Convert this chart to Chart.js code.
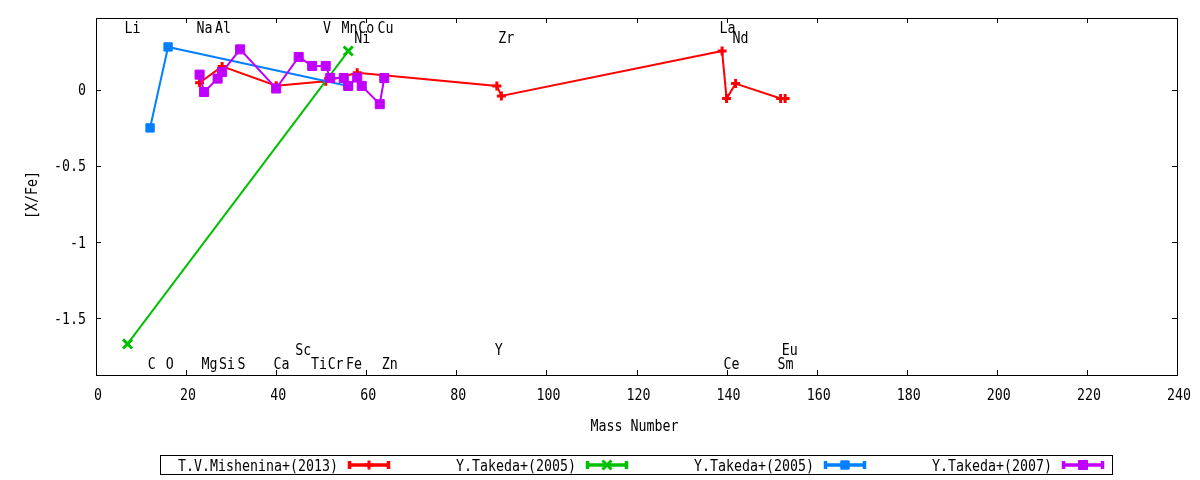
<!DOCTYPE html>
<html lang="en">
<head>
    <meta charset="UTF-8">
    <title>[X/Fe] vs Mass Number</title>
    <script src="https://cdn.jsdelivr.net/npm/chart.js"></script>
    <style>
        body { margin: 0; background: #fff; }
        canvas { display: block; }
    </style>
</head>
<body>
    <canvas id="xfeChart" width="1200" height="480"></canvas>

    <script>
        // データ
        const misheninaMass = [23, 28, 40, 51, 58, 89, 90, 139, 140, 142, 152, 153];
        const misheninaXFe = [0.045, 0.152, 0.025, 0.054, 0.11, 0.024, -0.042, 0.253, -0.059, 0.039, -0.059, -0.059];

        const takeda2005aMass = [7, 56];
        const takeda2005aXFe = [-1.671, 0.253];

        const takeda2005bMass = [12, 16, 56];
        const takeda2005bXFe = [-0.252, 0.28, 0.024];

        const takeda2007Mass = [23, 24, 27, 28, 32, 40, 45, 48, 51, 52, 55, 56, 58, 59, 63, 64];
        const takeda2007XFe = [0.098, -0.016, 0.072, 0.115, 0.264, 0.007, 0.214, 0.155, 0.155, 0.076, 0.076, 0.024, 0.079, 0.024, -0.096, 0.076];

        const seriesNames = ['T.V.Mishenina+(2013)', 'Y.Takeda+(2005)', 'Y.Takeda+(2005)', 'Y.Takeda+(2007)'];

        // 元素ラベル (質量数, [X/Fe] の位置)
        const elementNames = ['Li', 'Na', 'Al', 'V', 'Mn', 'Co', 'Cu', 'Ni', 'Zr', 'La', 'Nd',
            'C', 'O', 'Mg', 'Si', 'S', 'Ca', 'Sc', 'Ti', 'Cr', 'Fe', 'Zn', 'Y', 'Ce', 'Eu', 'Sm'];
        const elementLabelX = [8.1, 24.1, 28.2, 51.3, 56.3, 60, 64.3, 59.1, 91.1, 140.2, 143.1,
            12.4, 16.4, 25.2, 29.1, 32.3, 41.2, 46, 49.5, 53.2, 57.3, 65.2, 89.4, 141.1, 154, 153.1];
        const elementLabelY = [0.407, 0.407, 0.407, 0.407, 0.407, 0.407, 0.407, 0.341, 0.341, 0.407, 0.341,
            -1.796, -1.796, -1.796, -1.796, -1.796, -1.796, -1.706, -1.796, -1.796, -1.796, -1.796, -1.706, -1.796, -1.706, -1.796];

        const xTickValues = [0, 20, 40, 60, 80, 100, 120, 140, 160, 180, 200, 220, 240];
        const yTickValues = [-1.5, -1, -0.5, 0];

        const FONT = '16px "DejaVu Sans Mono", monospace';

        function toPoints(xs, ys) {
            return xs.map((x, i) => ({ x: x, y: ys[i] }));
        }

        // gnuplot 風の縦長フォント
        function monoText(ctx, str, x, y, align, rotate) {
            ctx.save();
            ctx.translate(x, y);
            if (rotate) ctx.rotate(-Math.PI / 2);
            ctx.scale(0.83, 1);
            ctx.font = FONT;
            ctx.fillStyle = '#000';
            ctx.textAlign = align;
            ctx.textBaseline = 'alphabetic';
            ctx.fillText(str, 0, 5.8);
            ctx.restore();
        }

        const styles = [
            { color: '#ff0000', pointStyle: 'cross', radius: 4.5, width: 3 },
            { color: '#00c000', pointStyle: 'crossRot', radius: 6.4, width: 3 },
            { color: '#0080ff', pointStyle: 'rect', radius: 5.9, width: 1 },
            { color: '#c000ff', pointStyle: 'rect', radius: 6.4, width: 1 },
        ];

        function drawMarker(ctx, st, x, y) {
            ctx.save();
            ctx.fillStyle = st.color;
            ctx.strokeStyle = st.color;
            ctx.lineWidth = st.width;
            Chart.helpers.drawPoint(ctx, { pointStyle: st.pointStyle, radius: st.radius, rotation: 0, borderWidth: st.width }, x, y);
            ctx.restore();
        }

        const gnuplotFrame = {
            id: 'gnuplotFrame',
            afterDraw(chart) {
                const ctx = chart.ctx;
                const a = chart.chartArea;
                const xs = chart.scales.x;
                const ys = chart.scales.y;

                ctx.save();
                ctx.strokeStyle = '#000';
                ctx.lineWidth = 1;
                ctx.strokeRect(Math.round(a.left) + 0.5, Math.round(a.top) + 0.5,
                    Math.round(a.right - a.left), Math.round(a.bottom - a.top));

                // 目盛り (内向き, 4辺)
                ctx.beginPath();
                xs.ticks.forEach(t => {
                    const px = Math.round(xs.getPixelForValue(t.value)) + 0.5;
                    ctx.moveTo(px, a.bottom); ctx.lineTo(px, a.bottom - 5);
                    ctx.moveTo(px, a.top); ctx.lineTo(px, a.top + 5);
                });
                ys.ticks.forEach(t => {
                    const py = Math.round(ys.getPixelForValue(t.value)) + 0.5;
                    ctx.moveTo(a.left, py); ctx.lineTo(a.left + 5, py);
                    ctx.moveTo(a.right, py); ctx.lineTo(a.right - 5, py);
                });
                ctx.stroke();
                ctx.restore();

                xs.ticks.forEach(t => {
                    monoText(ctx, String(t.value), xs.getPixelForValue(t.value) + 2, 394, 'center');
                });
                ys.ticks.forEach(t => {
                    monoText(ctx, String(t.value), 86, ys.getPixelForValue(t.value), 'right');
                });

                monoText(ctx, 'Mass Number', 634.5, 424.7, 'center');
                monoText(ctx, '[X/Fe]', 31, 195, 'center', true);

                elementNames.forEach((name, i) => {
                    monoText(ctx, name, xs.getPixelForValue(elementLabelX[i]), ys.getPixelForValue(elementLabelY[i]), 'center');
                });

                // 凡例
                ctx.save();
                ctx.strokeStyle = '#000';
                ctx.lineWidth = 1;
                ctx.strokeRect(160.5, 455.5, 952, 19);
                ctx.restore();
                const ly = 465;
                seriesNames.forEach((name, i) => {
                    const sx = 348 + i * 238;
                    const st = styles[i];
                    monoText(ctx, name, sx - 10, ly, 'right');
                    ctx.save();
                    ctx.strokeStyle = st.color;
                    ctx.lineWidth = 3.5;
                    ctx.beginPath();
                    ctx.moveTo(sx, ly); ctx.lineTo(sx + 42, ly);
                    ctx.moveTo(sx + 1.5, ly - 4); ctx.lineTo(sx + 1.5, ly + 4);
                    ctx.moveTo(sx + 40.5, ly - 4); ctx.lineTo(sx + 40.5, ly + 4);
                    ctx.stroke();
                    ctx.restore();
                    drawMarker(ctx, st, sx + 21, ly);
                });
            }
        };

        const allMass = [misheninaMass, takeda2005aMass, takeda2005bMass, takeda2007Mass];
        const allXFe = [misheninaXFe, takeda2005aXFe, takeda2005bXFe, takeda2007XFe];

        const datasets = seriesNames.map((name, i) => ({
            label: name,
            data: toPoints(allMass[i], allXFe[i]),
            borderColor: styles[i].color,
            backgroundColor: styles[i].color,
            borderWidth: 2,
            pointStyle: styles[i].pointStyle,
            pointRadius: styles[i].radius,
            pointBorderWidth: styles[i].width,
            pointBackgroundColor: styles[i].color,
            pointBorderColor: styles[i].color,
            tension: 0,
            fill: false,
            order: 4 - i, // 紫を最前面に
        }));

        new Chart(document.getElementById('xfeChart').getContext('2d'), {
            type: 'line',
            data: { datasets: datasets },
            options: {
                responsive: false,
                animation: false,
                devicePixelRatio: 1,
                layout: { padding: { top: 18, right: 23, left: 0, bottom: 0 } },
                plugins: {
                    legend: { display: false },
                    tooltip: { enabled: false },
                },
                scales: {
                    x: {
                        type: 'linear',
                        min: 0,
                        max: 240,
                        grid: { display: false },
                        border: { display: false },
                        ticks: { display: false },
                        afterBuildTicks: s => { s.ticks = xTickValues.map(v => ({ value: v })); },
                        afterFit: s => { s.height = 105; },
                    },
                    y: {
                        type: 'linear',
                        min: -1.875,
                        max: 0.47,
                        grid: { display: false },
                        border: { display: false },
                        ticks: { display: false },
                        afterBuildTicks: s => { s.ticks = yTickValues.map(v => ({ value: v })); },
                        afterFit: s => { s.width = 96; },
                    },
                },
            },
            plugins: [gnuplotFrame],
        });
    </script>
</body>
</html>
